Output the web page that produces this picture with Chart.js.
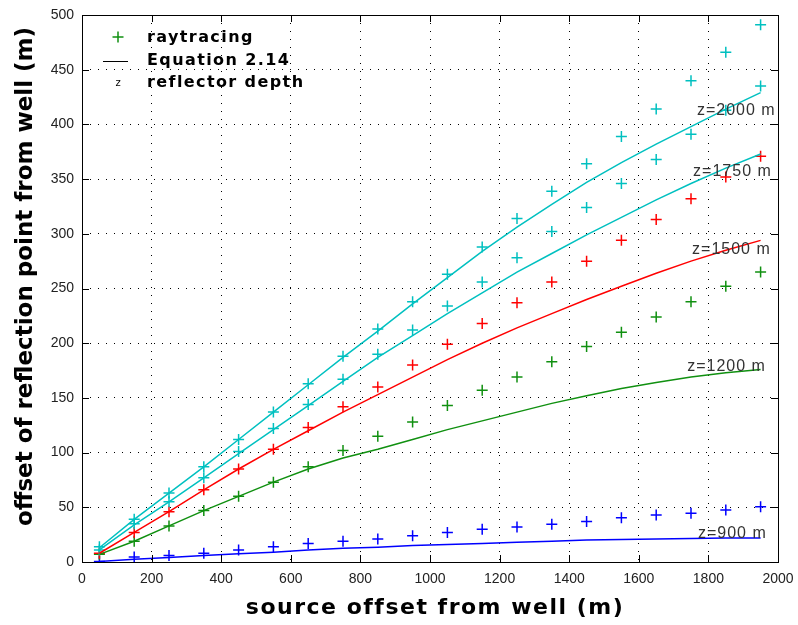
<!DOCTYPE html>
<html>
<head>
<meta charset="utf-8">
<script src="https://cdn.jsdelivr.net/npm/chart.js@4"></script>
<style>
  html, body { margin: 0; padding: 0; background: #ffffff; }
  #wrap { width: 798px; height: 625px; }
</style>
</head>
<body>
<div id="wrap"><canvas id="c" width="798" height="625"></canvas></div>
<script>
// ---- data ----
const sourceOffsets = [50,150,250,350,450,550,650,750,850,950,1050,1150,1250,1350,1450,1550,1650,1750,1850,1950];

const ray900  = [0.5,4.5,6,8,11,14,17,19,21,24,27,30,32,34.5,37,40.5,43,44.5,47.5,50.5];
const eq900   = [0.5,2.5,4,6,7.5,9,11,12.5,13.5,15,16,17,18,19,20,20.5,21,21.5,22,22];

const ray1200 = [7,19,33,47,60,73,87,102,115,128,143,157,169,183,197,210,224,238,252,265];
const eq1200  = [7,19,33,47,60,73,85,95,103,112,121,129,137,145,152,158.5,164,169,173,176];

const ray1500 = [8,27,46,66,85,103,123,142,160,180,199,218,237,256,275,294,313,332,352,371];
const eq1500  = [8,27,46,66,85,103,120,137,153,169,185,200,214,227,240,252,264,275,285,294];

const ray1750 = [11,35,55,77,101,122,144,167,190,212,234,256,278,302,324,346,368,391,413,435];
const eq1750  = [11,34,55,77,99,121,143,165,187,207,227,246,265,282,299,315,331,346,360,373];

const ray2000 = [14,39,63,87,112,137,163,188,213,238,263,288,314,339,364,389,414,440,466,491];
const eq2000  = [13,39,63,87,112,137,162,187,211,236,260,284,306,327,347,365,382,398,414,429];

const xTicks = [0,200,400,600,800,1000,1200,1400,1600,1800,2000];
const yTicks = [0,50,100,150,200,250,300,350,400,450,500];

const depthLabels = ['z=2000 m','z=1750 m','z=1500 m','z=1200 m','z=900 m'];
const depthLabelX = [1767,1756,1753,1739,1770];
const depthLabelY = [413,357,286,178.5,26];

const legendTexts = ['raytracing','Equation 2.14','reflector depth'];
const xTitle = 'source offset from well (m)';
const yTitle = 'offset of reflection point from well (m)';

// ---- styling ----
const CYAN = '#00c0c0', RED = '#ff0000', GREEN = '#109010', BLUE = '#0000ff';

function pts(ys) { return sourceOffsets.map((x, i) => ({x: x, y: ys[i]})); }
function lineSet(ys, color) {
  return { data: pts(ys), showLine: true, borderColor: color, backgroundColor: color,
           borderWidth: 1.5, pointRadius: 0, pointHoverRadius: 0, tension: 0 };
}
function crossSet(ys, color) {
  return { data: pts(ys), showLine: false, borderColor: color, backgroundColor: color,
           borderWidth: 1.5, pointStyle: 'cross', pointRadius: 5.5, pointHoverRadius: 5.5 };
}
function spacing(ctx, v) { if ('letterSpacing' in ctx) ctx.letterSpacing = v; }

const frame = {
  id: 'frame',
  afterDatasetsDraw(chart) {
    const ctx = chart.ctx, a = chart.chartArea;
    const xs = chart.scales.x, ys = chart.scales.y;
    ctx.save();
    ctx.strokeStyle = '#000';
    ctx.lineWidth = 1;
    ctx.strokeRect(Math.round(a.left) + 0.5, Math.round(a.top) + 0.5,
                   Math.round(a.right - a.left), Math.round(a.bottom - a.top));
    const L = 7;
    ctx.beginPath();
    xTicks.forEach(v => {
      const px = Math.round(xs.getPixelForValue(v)) + 0.5;
      ctx.moveTo(px, a.bottom); ctx.lineTo(px, a.bottom - L);
      ctx.moveTo(px, a.top); ctx.lineTo(px, a.top + L);
    });
    yTicks.forEach(v => {
      const py = Math.round(ys.getPixelForValue(v)) + 0.5;
      ctx.moveTo(a.left, py); ctx.lineTo(a.left + L, py);
      ctx.moveTo(a.right, py); ctx.lineTo(a.right - L, py);
    });
    ctx.stroke();

    // depth labels
    ctx.fillStyle = '#333';
    ctx.font = '16px "Liberation Sans", Arial, sans-serif';
    spacing(ctx, '1px');
    ctx.textAlign = 'left';
    ctx.textBaseline = 'middle';
    depthLabels.forEach((t, i) => {
      ctx.fillText(t, xs.getPixelForValue(depthLabelX[i]), ys.getPixelForValue(depthLabelY[i]));
    });

    // legend
    const lx = a.left, ly = a.top;
    ctx.strokeStyle = GREEN; ctx.lineWidth = 1.5;
    ctx.beginPath();
    ctx.moveTo(lx + 30.5, ly + 22); ctx.lineTo(lx + 41.5, ly + 22);
    ctx.moveTo(lx + 36, ly + 16.5); ctx.lineTo(lx + 36, ly + 27.5);
    ctx.stroke();
    ctx.strokeStyle = '#000'; ctx.lineWidth = 1;
    ctx.beginPath();
    ctx.moveTo(lx + 21, ly + 46.5); ctx.lineTo(lx + 46, ly + 46.5);
    ctx.stroke();
    ctx.fillStyle = '#000';
    ctx.font = '10px "DejaVu Sans", sans-serif';
    spacing(ctx, '0px');
    ctx.textAlign = 'center';
    ctx.fillText('z', lx + 36, ly + 68);
    ctx.font = 'bold 16px "DejaVu Sans", sans-serif';
    spacing(ctx, '1.4px');
    ctx.textAlign = 'left';
    legendTexts.forEach((t, i) => ctx.fillText(t, lx + 65, ly + 23 + i * 22.5));

    // axis titles
    ctx.fillStyle = '#000';
    ctx.textBaseline = 'alphabetic';
    ctx.textAlign = 'center';
    ctx.font = 'bold 22px "DejaVu Sans", sans-serif';
    spacing(ctx, '1.5px');
    ctx.fillText(xTitle, (a.left + a.right) / 2 + 5, 614);
    ctx.translate(31.5, (a.top + a.bottom) / 2 - 12);
    ctx.rotate(-Math.PI / 2);
    ctx.font = 'bold 23px "DejaVu Sans", sans-serif';
    spacing(ctx, '0px');
    ctx.fillText(yTitle, 0, 0);
    ctx.restore();
  }
};

const tickFont = { family: '"Liberation Sans", Arial, sans-serif', size: 14 };

new Chart(document.getElementById('c'), {
  type: 'scatter',
  data: {
    datasets: [
      lineSet(eq2000, CYAN), lineSet(eq1750, CYAN), lineSet(eq1500, RED),
      lineSet(eq1200, GREEN), lineSet(eq900, BLUE),
      crossSet(ray2000, CYAN), crossSet(ray1750, CYAN), crossSet(ray1500, RED),
      crossSet(ray1200, GREEN), crossSet(ray900, BLUE)
    ]
  },
  options: {
    responsive: false,
    animation: false,
    events: [],
    layout: { padding: { top: 15, right: 20, left: 0, bottom: 0 } },
    plugins: { legend: { display: false }, tooltip: { enabled: false } },
    scales: {
      x: {
        type: 'linear', min: 0, max: 2000,
        afterFit(s) { s.height = 63; s.paddingLeft = 0; s.paddingRight = 0; },
        afterBuildTicks(s) { s.ticks = xTicks.map(v => ({value: v})); },
        grid: { color: '#000', lineWidth: 1, drawTicks: false },
        border: { display: false, dash: [1, 7] },
        ticks: { color: '#222', padding: 9, maxRotation: 0, font: tickFont,
                 callback: v => String(v) }
      },
      y: {
        type: 'linear', min: 0, max: 500,
        afterFit(s) { s.width = 82; s.paddingTop = 0; s.paddingBottom = 0; },
        afterBuildTicks(s) { s.ticks = yTicks.map(v => ({value: v})); },
        grid: { color: '#000', lineWidth: 1, drawTicks: false },
        border: { display: false, dash: [1, 7] },
        ticks: { color: '#222', padding: 8, font: tickFont, callback: v => String(v) }
      }
    }
  },
  plugins: [frame]
});
</script>
</body>
</html>
